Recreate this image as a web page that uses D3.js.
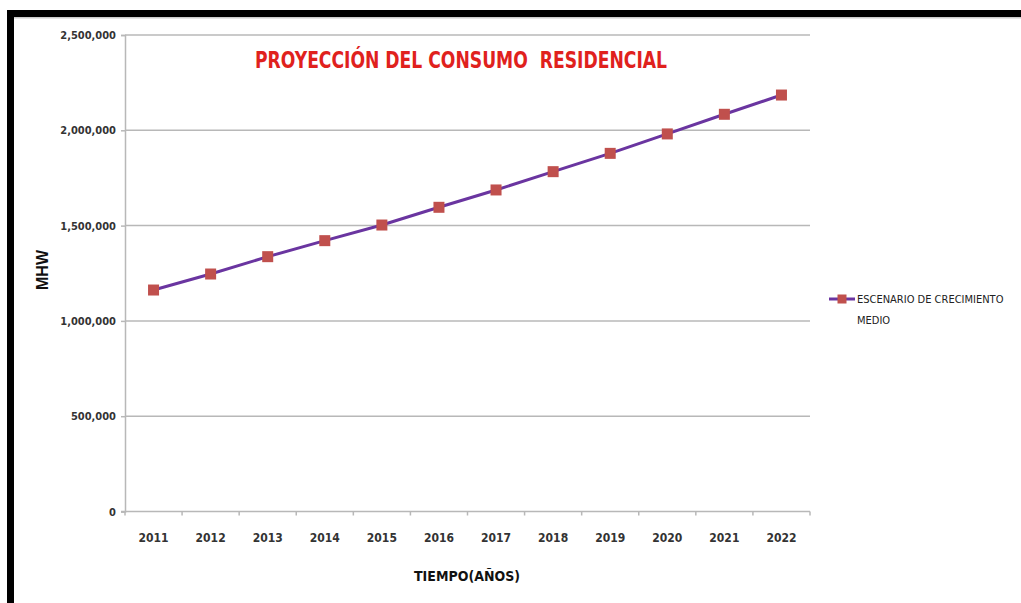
<!DOCTYPE html>
<html>
<head>
<meta charset="utf-8">
<script src="https://cdn.jsdelivr.net/npm/d3@7"></script>
<style>
body { margin: 0; background: #fff; }
text { font-family: "DejaVu Sans Condensed", "Liberation Sans Narrow", "DejaVu Sans", sans-serif; }
.tick text { fill: #333; font-size: 11px; font-weight: bold; }
</style>
</head>
<body>
<script>
// data
var years = ["2011","2012","2013","2014","2015","2016","2017","2018","2019","2020","2021","2022"];
var consumo = [1162000, 1246000, 1337000, 1421000, 1503000, 1596000, 1687000, 1783000, 1879000, 1981000, 2084000, 2185000];
var yTicks = [0, 500000, 1000000, 1500000, 2000000, 2500000];
var serieName = ["ESCENARIO DE CRECIMIENTO", "MEDIO"];

(function(){
var width = 1021, height = 603;
var plotLeft = 125, plotRight = 810, plotTop = 35, plotBottom = 511.5;

var svg = d3.select("body").append("svg")
    .attr("width", width)
    .attr("height", height);

// frame: thick black border top and left
svg.append("rect").attr("x", 0).attr("y", 0).attr("width", width).attr("height", height).attr("fill", "#fff");
svg.append("rect").attr("x", 7).attr("y", 17).attr("width", width - 7).attr("height", 1.5).attr("fill", "#ccc");
svg.append("rect").attr("x", 7).attr("y", 10).attr("width", width - 7).attr("height", 7).attr("fill", "#000");
svg.append("rect").attr("x", 7).attr("y", 10).attr("width", 7).attr("height", height - 10).attr("fill", "#000");

var x = d3.scaleBand().domain(years).range([plotLeft, plotRight]);
var y = d3.scaleLinear().domain([0, 2500000]).range([plotBottom, plotTop]);

//gridlines
svg.append("g")
    .selectAll("line")
    .data(yTicks.slice(1))
    .enter()
    .append("line")
    .attr("x1", plotLeft).attr("x2", plotRight)
    .attr("y1", function(d){ return y(d); })
    .attr("y2", function(d){ return y(d); })
    .attr("stroke", "#b8b8b8")
    .attr("stroke-width", 1.5);

var fmt = d3.format(",");
var yAxis = d3.axisLeft(y).tickValues(yTicks).tickFormat(fmt).tickSize(4).tickPadding(5);
var ya = svg.append("g").attr("transform", "translate(" + plotLeft + ",0)").call(yAxis);
ya.select(".domain").attr("stroke", "#b8b8b8").attr("stroke-width", 1.5);
ya.selectAll(".tick line").attr("stroke", "#b8b8b8").attr("stroke-width", 1.5);

// x axis: ticks at category boundaries
var xa = svg.append("g").attr("transform", "translate(0," + plotBottom + ")");
xa.append("line").attr("x1", plotLeft - 4).attr("x2", plotRight).attr("stroke", "#b8b8b8").attr("stroke-width", 1.5);
xa.selectAll(".bound")
    .data(years.concat(["end"]))
    .enter()
    .append("line")
    .attr("x1", function(d, i){ return plotLeft + i * x.step(); })
    .attr("x2", function(d, i){ return plotLeft + i * x.step(); })
    .attr("y1", 0).attr("y2", 4)
    .attr("stroke", "#b8b8b8").attr("stroke-width", 1.5);
xa.selectAll(".lbl")
    .data(years)
    .enter()
    .append("text")
    .attr("x", function(d){ return x(d) + x.bandwidth() / 2; })
    .attr("y", 30)
    .attr("text-anchor", "middle")
    .attr("fill", "#333")
    .style("font-size", "12px")
    .style("font-weight", "bold")
    .text(function(d){ return d; });

// line + markers
var line = d3.line()
    .x(function(d, i){ return x(years[i]) + x.bandwidth() / 2; })
    .y(function(d){ return y(d); });

svg.append("path")
    .datum(consumo)
    .attr("d", line)
    .attr("fill", "none")
    .attr("stroke", "#6a35a0")
    .attr("stroke-width", 3);

var ms = 11;
svg.selectAll(".pt")
    .data(consumo)
    .enter()
    .append("rect")
    .attr("x", function(d, i){ return x(years[i]) + x.bandwidth() / 2 - ms / 2; })
    .attr("y", function(d){ return y(d) - ms / 2; })
    .attr("width", ms).attr("height", ms)
    .attr("fill", "#c0504d");

// title
svg.append("text")
    .attr("x", 461).attr("y", 68)
    .attr("text-anchor", "middle")
    .attr("fill", "#e0211d")
    .style("font-size", "23px")
    .style("font-weight", "bold")
    .style("white-space", "pre")
    .attr("textLength", 412)
    .attr("lengthAdjust", "spacingAndGlyphs")
    .text("PROYECCIÓN DEL CONSUMO  RESIDENCIAL");

// axis titles
svg.append("text")
    .attr("x", 467).attr("y", 581)
    .attr("text-anchor", "middle")
    .attr("fill", "#111")
    .style("font-size", "14px")
    .style("font-weight", "bold")
    .text("TIEMPO(AÑOS)");

svg.append("text")
    .attr("transform", "translate(48,270) rotate(-90)")
    .attr("text-anchor", "middle")
    .attr("fill", "#111")
    .style("font-family", "'Liberation Sans', Arial, sans-serif")
    .style("font-size", "16px")
    .style("font-weight", "bold")
    .text("MHW");

// legend
var lg = svg.append("g").attr("transform", "translate(829,299)");
lg.append("line").attr("x1", 0).attr("x2", 26).attr("stroke", "#6a35a0").attr("stroke-width", 3);
lg.append("rect").attr("x", 13 - 4.5).attr("y", -4.5).attr("width", 9).attr("height", 9).attr("fill", "#c0504d");
lg.selectAll(".lt")
    .data(serieName)
    .enter()
    .append("text")
    .attr("x", 28)
    .attr("y", function(d, i){ return 4 + i * 21; })
    .attr("fill", "#222")
    .style("font-size", "11px")
    .text(function(d){ return d; });
})();
</script>
</body>
</html>
